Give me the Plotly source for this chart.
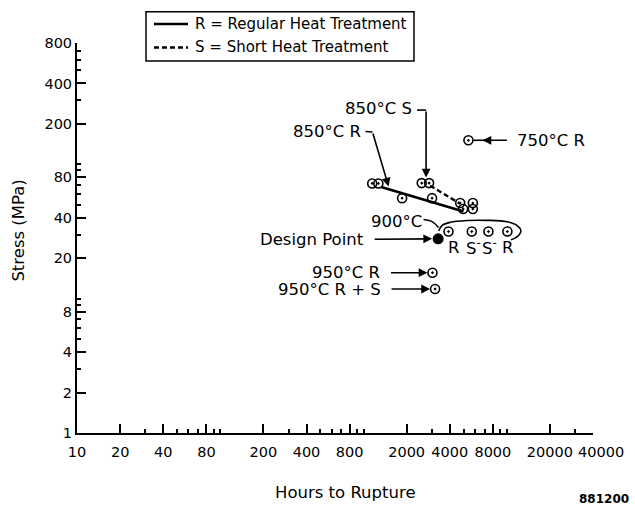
import numpy as np
import plotly.graph_objects as go

# ---------------- data ----------------
# 850 °C, regular heat treatment (R)
r850_hours = [1150, 1270, 1860, 3010, 4960, 5800]
r850_stress = [72, 72, 56, 56, 46.5, 46.5]
r850_fit_hours = [1330, 4990]
r850_fit_stress = [67.8, 44.6]

# 850 °C, short heat treatment (S)
s850_hours = [2550, 2870, 4730, 5800]
s850_stress = [72.5, 72.5, 51.5, 51.5]
s850_fit_hours = [2920, 4730]
s850_fit_stress = [69.3, 50.9]

# 750 °C R
r750_hours = [5400]
r750_stress = [151]

# 900 °C tests
t900_hours = [3920, 5700, 7450, 10100]
t900_stress = [31.6, 31.6, 31.6, 31.6]
t900_labels = ["R", "S<sup>-</sup>", "S<sup>-</sup>", "R"]

# design point
design_hours = [3320]
design_stress = [27.9]

# 950 °C tests
r950_hours = [3030]
r950_stress = [15.6]
rs950_hours = [3160]
rs950_stress = [11.8]

legend_labels = ["R = Regular Heat Treatment", "S = Short Heat Treatment"]

x_tick_vals = [10, 20, 40, 80, 200, 400, 800, 2000, 4000, 8000, 20000, 40000]
x_minor_vals = [30, 50, 60, 70, 90, 100, 300, 500, 600, 700, 900, 1000,
                3000, 5000, 6000, 7000, 9000, 10000, 30000]
y_tick_vals = [1, 2, 4, 8, 20, 40, 80, 200, 400, 800]
y_minor_vals = [3, 5, 6, 7, 9, 10, 30, 50, 60, 70, 90, 100, 300, 500, 600, 700]

# ---------------- geometry ----------------
W, H = 635, 505
ML, MR, MT, MB = 77, 42, 43, 72
X_RANGE = [np.log10(10), np.log10(40000)]
Y_RANGE = [np.log10(1), np.log10(800)]
PLOT_W, PLOT_H = W - ML - MR, H - MT - MB
PX_X = PLOT_W / (X_RANGE[1] - X_RANGE[0])   # pixels per decade
PX_Y = PLOT_H / (Y_RANGE[1] - Y_RANGE[0])

FONT = "DejaVu Sans"
TXT = 16.5
TICK = 14.5
BLACK = "black"


def lg(v):
    return float(np.log10(v))


def px(xp):
    return (xp - ML) / PLOT_W


def py(yp):
    return (H - MB - yp) / PLOT_H


def shift(h, s, dx, dy):
    """Move a data point by screen pixels (dy positive downwards)."""
    return h * 10 ** (dx / PX_X), s * 10 ** (-dy / PX_Y)


fig = go.Figure()

solid = dict(color=BLACK, width=2.6)
dashed = dict(color=BLACK, width=2.4, dash="5px,3px")

# fitted trend lines
fig.add_trace(go.Scatter(x=r850_fit_hours, y=r850_fit_stress, mode="lines",
                         line=solid, name=legend_labels[0]))
fig.add_trace(go.Scatter(x=s850_fit_hours, y=s850_fit_stress, mode="lines",
                         line=dashed, name=legend_labels[1]))

open_marker = dict(symbol="circle-open-dot", size=9, color=BLACK,
                   line=dict(width=1.6, color=BLACK))
for hx, sy in [(r850_hours, r850_stress), (s850_hours, s850_stress),
               (r750_hours, r750_stress), (t900_hours, t900_stress),
               (r950_hours, r950_stress), (rs950_hours, rs950_stress)]:
    fig.add_trace(go.Scatter(x=hx, y=sy, mode="markers", marker=open_marker))

fig.add_trace(go.Scatter(
    x=design_hours, y=design_stress, mode="markers",
    marker=dict(symbol="circle", size=11, color=BLACK)))


def leader(h, s, offsets, width=1.6, spline=False):
    """Thin connector line given as pixel offsets from a data point."""
    pts = [shift(h, s, dx, dy) for dx, dy in offsets]
    line = dict(color=BLACK, width=width)
    if spline:
        line.update(shape="spline", smoothing=1.0)
    fig.add_trace(go.Scatter(
        x=[p[0] for p in pts], y=[p[1] for p in pts], mode="lines",
        line=line, hoverinfo="skip"))


# loop grouping the 900 °C tests, plus the leader from its label
h0, s0 = t900_hours[0], t900_stress[0]
leader(h0, s0, [(-25, -12), (-16, -9.7), (-10, -4)], spline=True)
leader(h0, s0, [(-9.8, -0.7), (-6.3, -6.2), (1.7, -9.2), (18.7, -11),
                (38.7, -11.2), (58.7, -9.7), (69, -5.7), (72.4, -1),
                (70.7, 3.3), (66.7, 6.6), (62.4, 8.3)], spline=True)

annotations = []
shapes = []


def label(text, hx, sy, dx, dy, xanchor="right", size=TXT):
    annotations.append(dict(
        x=lg(hx), y=lg(sy), xref="x", yref="y", text=text, showarrow=False,
        xshift=dx, yshift=-dy, xanchor=xanchor, yanchor="middle", borderpad=0,
        font=dict(family=FONT, size=size, color=BLACK)))


def arrow(hx, sy, tail_dx, tail_dy, standoff, xshift=0):
    annotations.append(dict(
        x=lg(hx), y=lg(sy), xref="x", yref="y", text="", showarrow=True,
        ax=tail_dx, ay=tail_dy, arrowhead=2, arrowsize=1.1, arrowwidth=1.6,
        arrowcolor=BLACK, standoff=standoff, xshift=xshift))


# 850 °C R: arrow onto the fitted line
t = 0.1
lh = 10 ** (lg(r850_fit_hours[0]) + t * (lg(r850_fit_hours[1]) - lg(r850_fit_hours[0])))
ls = 10 ** (lg(r850_fit_stress[0]) + t * (lg(r850_fit_stress[1]) - lg(r850_fit_stress[0])))
label("850°C R", lh, ls, -27, -58)
leader(lh, ls, [(-24, -58), (-17, -57.5)])
arrow(lh, ls, -17, -57.5, 3)

# 850 °C S: elbow leader down to the second S test
sh, ss = s850_hours[1], s850_stress[1]
label("850°C S", sh, ss, -16, -75)
leader(sh, ss, [(-12, -73), (-3, -73)])
arrow(sh, ss, 0, -73, 5.5, xshift=-3)

# 750 °C R
rh, rs = r750_hours[0], r750_stress[0]
label("750°C R", rh, rs, 48, 0, xanchor="left")
leader(rh, rs, [(5, 0), (18, 0)])
arrow(rh, rs, 40, 0, 14)

# 900 °C
label("900°C", h0, s0, -25.6, -10)
for hx, sy, txt, dx in zip(t900_hours, t900_stress, t900_labels, [-1, -7, -7, -6]):
    label(txt, hx, sy, dx, 15.6, xanchor="left")

# design point
dh, ds = design_hours[0], design_stress[0]
label("Design Point", dh, ds, -73, 0.5)
arrow(dh, ds, -65, 0.5, 6)

# 950 °C
label("950°C R", r950_hours[0], r950_stress[0], -51, 0)
arrow(r950_hours[0], r950_stress[0], -43, 0, 5)
label("950°C R + S", rs950_hours[0], rs950_stress[0], -53.3, 0)
arrow(rs950_hours[0], rs950_stress[0], -45, 0, 5)

# boxed key in the upper part of the figure
shapes.append(dict(type="rect", xref="paper", yref="paper",
                   x0=px(146), x1=px(414), y0=py(61), y1=py(11.7),
                   line=dict(color=BLACK, width=1.5), fillcolor="white"))
for row_y, style, text in zip([24, 47.5], [solid, dashed], legend_labels):
    shapes.append(dict(type="line", xref="paper", yref="paper",
                       x0=px(154), x1=px(188), y0=py(row_y), y1=py(row_y),
                       line=dict(style, width=2.4)))
    annotations.append(dict(
        x=px(194), y=py(row_y), xref="paper", yref="paper", text=text,
        showarrow=False, xanchor="left", yanchor="middle", borderpad=0,
        font=dict(family=FONT, size=15, color=BLACK)))

# last x tick label sits just right of its tick, clear of "20000"
annotations.append(dict(
    x=lg(x_tick_vals[-1]), y=py(451.5), xref="x", yref="paper",
    text=str(x_tick_vals[-1]), xshift=8, showarrow=False,
    xanchor="center", yanchor="middle", borderpad=0,
    font=dict(family=FONT, size=TICK, color=BLACK)))
x_tick_text = [str(v) for v in x_tick_vals[:-1]] + [""]

# axis titles and figure number
annotations.append(dict(
    x=px(18.8), y=py(230.8), xref="paper", yref="paper",
    text="Stress (MPa)", textangle=-90,
    showarrow=False, xanchor="center", yanchor="middle",
    font=dict(family=FONT, size=TXT, color=BLACK)))
annotations.append(dict(
    x=px(345.5), y=py(492.8), xref="paper", yref="paper",
    text="Hours to Rupture",
    showarrow=False, xanchor="center", yanchor="middle",
    font=dict(family=FONT, size=TXT, color=BLACK)))
annotations.append(dict(
    x=px(630), y=py(498.5), xref="paper", yref="paper",
    text="<b>881200</b>", borderpad=0,
    showarrow=False, xanchor="right", yanchor="middle",
    font=dict(family=FONT, size=12, color=BLACK)))

axis_common = dict(
    type="log", showline=True, linewidth=2, linecolor=BLACK,
    ticks="inside", ticklen=9, tickwidth=2, tickcolor=BLACK,
    showgrid=False, zeroline=False, tickangle=0,
    tickfont=dict(family=FONT, size=TICK, color=BLACK),
)

fig.update_traces(showlegend=False)
fig.update_layout(
    width=W, height=H,
    margin=dict(l=ML, r=MR, t=MT, b=MB),
    paper_bgcolor="white", plot_bgcolor="white",
    xaxis=dict(axis_common, range=X_RANGE,
               tickvals=x_tick_vals, ticktext=x_tick_text,
               ticklabelstandoff=5,
               minor=dict(tickvals=x_minor_vals, ticks="inside", ticklen=4,
                          tickwidth=1.5, tickcolor=BLACK, showgrid=False)),
    yaxis=dict(axis_common, range=Y_RANGE,
               tickvals=y_tick_vals, ticktext=[str(v) for v in y_tick_vals],
               minor=dict(tickvals=y_minor_vals, ticks="inside", ticklen=4,
                          tickwidth=1.5, tickcolor=BLACK, showgrid=False)),
    showlegend=False,
    annotations=annotations,
    shapes=shapes,
)

fig.write_html("out.html")
